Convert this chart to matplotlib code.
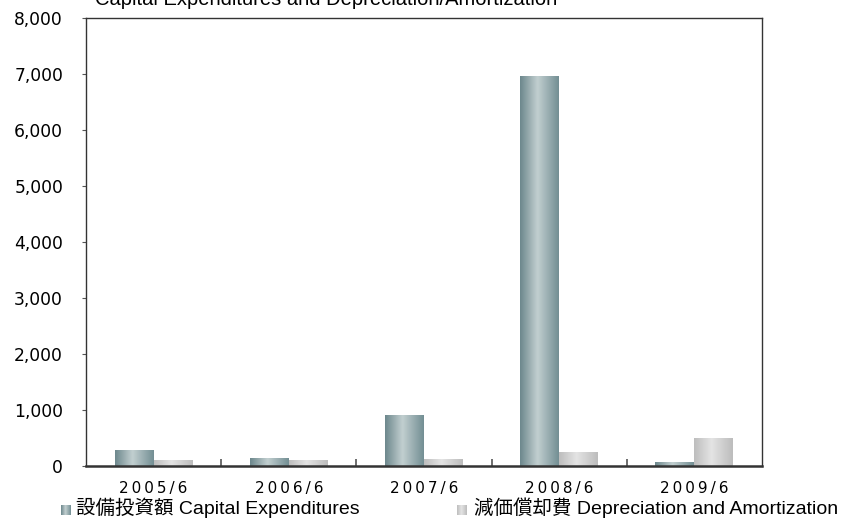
import matplotlib
matplotlib.use("Agg")
import matplotlib.pyplot as plt
import numpy as np
from matplotlib.colors import LinearSegmentedColormap

plt.rcParams["font.family"] = ["DejaVu Sans"]
LEGEND_FONT = ["Liberation Sans", "Noto Sans CJK JP"]

# data (units as on the y axis)
periods = ["2005/6", "2006/6", "2007/6", "2008/6", "2009/6"]
capex = [270, 140, 900, 6960, 55]
depreciation = [90, 90, 110, 235, 485]
series_names = ["設備投資額 Capital Expenditures", "減価償却費 Depreciation and Amortization"]
y_ticks = [0, 1000, 2000, 3000, 4000, 5000, 6000, 7000, 8000]

# cylinder-like shading for the bars
capex_cmap = LinearSegmentedColormap.from_list(
    "capex", [(0.0, "#6c878c"), (0.45, "#c2cfd0"), (1.0, "#728e93")])
dep_cmap = LinearSegmentedColormap.from_list(
    "dep", [(0.0, "#bdbdbd"), (0.45, "#e4e4e4"), (1.0, "#bcbcbc")])
grad = np.linspace(0, 1, 256).reshape(1, -1)


def shaded_bar(ax, x0, width, height, cmap):
    ax.imshow(grad, extent=[x0, x0 + width, 0, height], aspect="auto",
              cmap=cmap, zorder=2, interpolation="bicubic")


def spaced(s):
    # the reference draws the period labels with wide letter spacing
    return "\u2009".join(s)


fig = plt.figure(figsize=(8.44, 5.18), dpi=100)
ax = fig.add_axes([86 / 844, 1 - 466 / 518, (762 - 86) / 844, (466 - 18) / 518])

bw = 0.288
for i, (c, d) in enumerate(zip(capex, depreciation)):
    shaded_bar(ax, i - bw, bw, c, capex_cmap)
    shaded_bar(ax, i, bw, d, dep_cmap)

ax.set_xlim(-0.5, len(periods) - 0.5)
ax.set_ylim(0, 8000)
ax.set_yticks(y_ticks)
ax.set_yticklabels([f"{v:,}" for v in y_ticks], fontsize=12.3)
ax.tick_params(axis="y", direction="out", length=3, width=0.8, pad=13.5, color="#555555")

# category labels centred, tick marks between categories
ax.set_xticks(np.arange(len(periods)))
ax.set_xticklabels([spaced(p) for p in periods], fontsize=11)
ax.tick_params(axis="x", which="major", length=0, pad=11)
ax.set_xticks(np.arange(0.5, len(periods) - 1, 1.0), minor=True)
ax.tick_params(axis="x", which="minor", direction="in", length=5, width=1.2, color="#555555")

for side in ["left", "top", "right"]:
    ax.spines[side].set_linewidth(1.0)
    ax.spines[side].set_color("#333333")
ax.spines["bottom"].set_linewidth(1.8)
ax.spines["bottom"].set_color("#333333")

# title (clipped at the top edge as in the reference)
fig.text(95 / 844, 1 - 5 / 518, "Capital Expenditures and Depreciation/Amortization",
         fontsize=14.5, va="baseline", ha="left", family=["Liberation Sans"])

# legend drawn by hand along the bottom
legend_x = [61, 457]
text_x = [76, 474]
for name, lx, tx, cmap in zip(series_names, legend_x, text_x, [capex_cmap, dep_cmap]):
    lax = fig.add_axes([lx / 844, 1 - 515 / 518, 10 / 844, 10 / 518])
    lax.imshow(grad, aspect="auto", cmap=cmap, extent=[0, 1, 0, 1])
    lax.set_axis_off()
    fig.text(tx / 844, 1 - 514 / 518, name, fontsize=14, va="baseline", ha="left",
             family=LEGEND_FONT)

fig.savefig("out.png", dpi=100)
